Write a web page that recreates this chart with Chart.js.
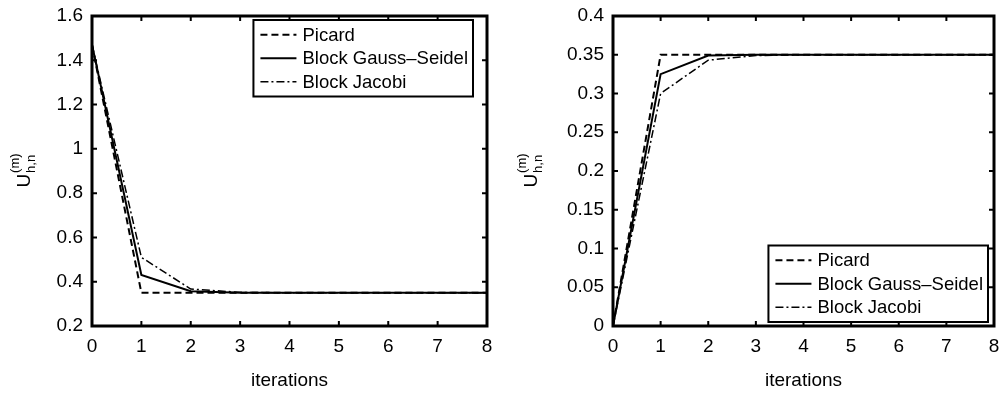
<!DOCTYPE html>
<html>
<head>
<meta charset="utf-8">
<script src="https://cdn.jsdelivr.net/npm/chart.js@4.4.1/dist/chart.umd.min.js"></script>
<style>
  html, body { margin: 0; padding: 0; background: #fff; }
  .box { position: absolute; top: 0; width: 501px; height: 395px; }
</style>
</head>
<body>
<div class="box" style="left:0"><canvas id="leftChart" width="501" height="395"></canvas></div>
<div class="box" style="left:501px"><canvas id="rightChart" width="501" height="395"></canvas></div>
<script>
// iterations on the x axis
const iterations = [0, 1, 2, 3, 4, 5, 6, 7, 8];

// left panel
const leftPicard  = [1.47, 0.35, 0.35, 0.35, 0.35, 0.35, 0.35, 0.35, 0.35];
const leftGauss   = [1.47, 0.43, 0.357, 0.35, 0.35, 0.35, 0.35, 0.35, 0.35];
const leftJacobi  = [1.47, 0.51, 0.367, 0.352, 0.35, 0.35, 0.35, 0.35, 0.35];

// right panel
const rightPicard = [0, 0.35, 0.35, 0.35, 0.35, 0.35, 0.35, 0.35, 0.35];
const rightGauss  = [0, 0.325, 0.349, 0.35, 0.35, 0.35, 0.35, 0.35, 0.35];
const rightJacobi = [0, 0.30, 0.343, 0.349, 0.35, 0.35, 0.35, 0.35, 0.35];

const seriesNames = ['Picard', 'Block Gauss\u2013Seidel', 'Block Jacobi'];

const FONT = "'Liberation Sans', Arial, sans-serif";
Chart.defaults.font.family = FONT;
Chart.defaults.color = '#000';

function pts(vals) {
  return iterations.map((x, i) => ({ x: x, y: vals[i] }));
}

// box + inward ticks on all four sides
const frame = {
  id: 'frame',
  afterDatasetsDraw(chart) {
    const ctx = chart.ctx;
    const a = chart.chartArea;
    const xs = chart.scales.x, ys = chart.scales.y;
    ctx.save();
    ctx.strokeStyle = '#000';
    ctx.lineWidth = 2;
    const len = 5;
    ctx.beginPath();
    xs.ticks.forEach(t => {
      const px = xs.getPixelForValue(t.value);
      ctx.moveTo(px, a.bottom); ctx.lineTo(px, a.bottom - len);
      ctx.moveTo(px, a.top); ctx.lineTo(px, a.top + len);
    });
    ys.ticks.forEach(t => {
      const py = ys.getPixelForValue(t.value);
      ctx.moveTo(a.left, py); ctx.lineTo(a.left + len, py);
      ctx.moveTo(a.right, py); ctx.lineTo(a.right - len, py);
    });
    ctx.stroke();
    ctx.lineWidth = 3;
    ctx.strokeRect(a.left, a.top, a.right - a.left, a.bottom - a.top);
    ctx.restore();
  }
};

// legend box inside the plot area
const boxLegend = {
  id: 'boxLegend',
  afterDraw(chart, args, opts) {
    const ctx = chart.ctx;
    const a = chart.chartArea;
    ctx.save();
    ctx.font = '18.5px ' + FONT;
    const sample = 36, gap = 6, pad = 7, rowH = 23.5;
    let tw = 0;
    chart.data.datasets.forEach(d => { tw = Math.max(tw, ctx.measureText(d.label).width); });
    const w = pad + sample + gap + tw + 5;
    const h = rowH * chart.data.datasets.length + 6;
    const x0 = a.right - opts.right - w;
    const y0 = opts.top != null ? a.top + opts.top : a.bottom - opts.bottom - h;
    ctx.fillStyle = '#fff';
    ctx.fillRect(x0, y0, w, h);
    ctx.lineWidth = 2;
    ctx.strokeStyle = '#000';
    ctx.strokeRect(x0, y0, w, h);
    chart.data.datasets.forEach((d, i) => {
      const cy = y0 + 3 + rowH * (i + 0.5);
      ctx.beginPath();
      ctx.setLineDash(d.borderDash || []);
      ctx.lineWidth = d.borderWidth;
      ctx.moveTo(x0 + pad, cy);
      ctx.lineTo(x0 + pad + sample, cy);
      ctx.stroke();
      ctx.setLineDash([]);
      ctx.fillStyle = '#000';
      ctx.textBaseline = 'middle';
      ctx.textAlign = 'left';
      ctx.fillText(d.label, x0 + pad + sample + gap, cy + 1);
    });
    ctx.restore();
  }
};

// rotated y label U^(m)_(h,n)
const yLabel = {
  id: 'yLabel',
  afterDraw(chart, args, opts) {
    const ctx = chart.ctx;
    const a = chart.chartArea;
    ctx.save();
    ctx.translate(opts.x, (a.top + a.bottom) / 2);
    ctx.rotate(-Math.PI / 2);
    ctx.fillStyle = '#000';
    ctx.textBaseline = 'alphabetic';
    ctx.textAlign = 'left';
    ctx.font = '19px ' + FONT;
    const uw = ctx.measureText('U').width;
    ctx.font = '13px ' + FONT;
    const sw = Math.max(ctx.measureText('(m)').width, ctx.measureText('h,n').width);
    const start = -(uw + sw) / 2;
    ctx.font = '19px ' + FONT;
    ctx.fillText('U', start, 6);
    ctx.font = '13px ' + FONT;
    ctx.fillText('(m)', start + uw + 1, -5);
    ctx.fillText('h,n', start + uw + 1, 11);
    ctx.restore();
  }
};

function trimTick(v) {
  return String(+Number(v).toFixed(2));
}

function makeChart(id, p, g, j, yMin, yMax, yStep, yWidth, rightPad, legendPos, labelX) {
  return new Chart(document.getElementById(id), {
    type: 'line',
    data: {
      datasets: [
        { label: seriesNames[0], data: pts(p), borderColor: '#000', borderWidth: 2, borderDash: [7, 4] },
        { label: seriesNames[1], data: pts(g), borderColor: '#000', borderWidth: 2 },
        { label: seriesNames[2], data: pts(j), borderColor: '#000', borderWidth: 1.5, borderDash: [8, 3, 2, 3] }
      ]
    },
    options: {
      responsive: false,
      animation: false,
      layout: { padding: { left: 0, right: rightPad, top: 16, bottom: 0 } },
      elements: { point: { radius: 0 }, line: { tension: 0 } },
      scales: {
        x: {
          type: 'linear',
          min: 0,
          max: 8,
          ticks: { stepSize: 1, padding: 9, font: { size: 19 }, maxRotation: 0 },
          grid: { display: false, drawTicks: false },
          border: { display: false },
          title: { display: true, text: 'iterations', font: { size: 19 }, padding: { bottom: 3 } },
          afterFit(s) { s.height = 69; s.paddingLeft = 0; s.paddingRight = 0; }
        },
        y: {
          min: yMin,
          max: yMax,
          ticks: { stepSize: yStep, padding: 9, font: { size: 19 }, callback: trimTick },
          grid: { display: false, drawTicks: false },
          border: { display: false },
          afterFit(s) { s.width = yWidth; s.paddingTop = 0; s.paddingBottom = 0; }
        }
      },
      plugins: {
        legend: { display: false },
        tooltip: { enabled: false },
        boxLegend: legendPos,
        yLabel: { x: labelX }
      }
    },
    plugins: [frame, boxLegend, yLabel]
  });
}

makeChart('leftChart', leftPicard, leftGauss, leftJacobi, 0.2, 1.6, 0.2, 92, 14, { right: 14, top: 4 }, 24);
makeChart('rightChart', rightPicard, rightGauss, rightJacobi, 0, 0.4, 0.05, 112, 8, { right: 6, bottom: 4 }, 30);
</script>
</body>
</html>
